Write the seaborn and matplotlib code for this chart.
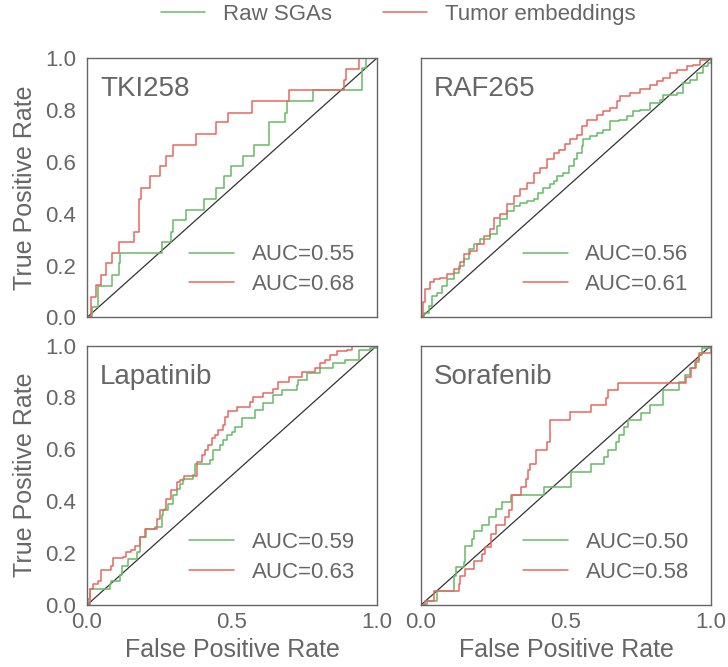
import pandas as pd
import matplotlib
matplotlib.use("Agg")
import matplotlib.pyplot as plt
import seaborn as sns

# ROC corner points (fpr where the step jumps, tpr after the jump)
tki_raw_fpr = [0, 0.018, 0.038, 0.086, 0.111, 0.115, 0.257, 0.288, 0.295, 0.343, 0.403, 0.445, 0.472, 0.495, 0.539, 0.576, 0.628, 0.683, 0.691, 0.778, 0.948, 0.962, 1.0]
tki_raw_tpr = [0, 0.042, 0.12, 0.165, 0.21, 0.25, 0.29, 0.33, 0.374, 0.415, 0.456, 0.50, 0.544, 0.585, 0.623, 0.666, 0.752, 0.79, 0.833, 0.875, 0.961, 1.0, 1.0]
tki_emb_fpr = [0, 0.015, 0.032, 0.047, 0.067, 0.086, 0.11, 0.162, 0.178, 0.187, 0.216, 0.251, 0.272, 0.295, 0.375, 0.444, 0.485, 0.568, 0.695, 0.885, 0.894, 0.939, 1.0]
tki_emb_tpr = [0, 0.08, 0.126, 0.165, 0.21, 0.25, 0.29, 0.33, 0.456, 0.50, 0.544, 0.585, 0.623, 0.666, 0.708, 0.752, 0.79, 0.833, 0.875, 0.916, 0.958, 1.0, 1.0]

raf_raw_fpr = [0, 0.009, 0.026, 0.038, 0.055, 0.072, 0.090, 0.113, 0.130, 0.147, 0.164, 0.181, 0.204, 0.239, 0.262, 0.273, 0.296, 0.319, 0.342, 0.365, 0.388, 0.405, 0.422, 0.445, 0.457, 0.468, 0.491, 0.509, 0.526, 0.537, 0.555, 0.560, 0.583, 0.606, 0.629, 0.652, 0.681, 0.710, 0.732, 0.755, 0.790, 0.824, 0.836, 0.882, 0.905, 0.928, 0.951, 0.974, 0.991, 1.0]
raf_raw_tpr = [0, 0.019, 0.045, 0.083, 0.096, 0.122, 0.147, 0.173, 0.199, 0.224, 0.263, 0.282, 0.301, 0.321, 0.353, 0.378, 0.410, 0.429, 0.442, 0.449, 0.455, 0.481, 0.500, 0.513, 0.526, 0.545, 0.558, 0.583, 0.609, 0.635, 0.660, 0.686, 0.699, 0.712, 0.724, 0.756, 0.763, 0.776, 0.795, 0.801, 0.827, 0.840, 0.859, 0.865, 0.904, 0.917, 0.942, 0.968, 0.981, 1.0]
raf_emb_fpr = [0, 0.006, 0.015, 0.032, 0.044, 0.067, 0.090, 0.113, 0.135, 0.147, 0.170, 0.193, 0.216, 0.239, 0.250, 0.273, 0.296, 0.319, 0.342, 0.365, 0.388, 0.411, 0.434, 0.457, 0.474, 0.497, 0.514, 0.537, 0.555, 0.572, 0.606, 0.629, 0.652, 0.675, 0.687, 0.721, 0.755, 0.790, 0.813, 0.836, 0.859, 0.882, 0.916, 0.939, 0.962, 0.985, 1.0]
raf_emb_tpr = [0, 0.058, 0.109, 0.135, 0.147, 0.154, 0.167, 0.186, 0.212, 0.244, 0.256, 0.282, 0.314, 0.340, 0.385, 0.397, 0.436, 0.468, 0.494, 0.519, 0.558, 0.577, 0.609, 0.635, 0.647, 0.667, 0.688, 0.705, 0.737, 0.763, 0.782, 0.795, 0.808, 0.833, 0.853, 0.865, 0.881, 0.897, 0.910, 0.923, 0.942, 0.955, 0.968, 0.974, 0.994, 1.0, 1.0]

lap_raw_fpr = [0, 0.003, 0.009, 0.078, 0.084, 0.113, 0.119, 0.142, 0.171, 0.182, 0.205, 0.234, 0.257, 0.263, 0.280, 0.297, 0.309, 0.320, 0.332, 0.366, 0.372, 0.424, 0.435, 0.459, 0.470, 0.482, 0.499, 0.510, 0.533, 0.579, 0.608, 0.643, 0.672, 0.724, 0.729, 0.758, 0.804, 0.850, 0.891, 0.937, 0.977, 1.0]
lap_raw_tpr = [0, 0.023, 0.062, 0.081, 0.094, 0.116, 0.152, 0.178, 0.204, 0.262, 0.294, 0.300, 0.345, 0.365, 0.390, 0.423, 0.448, 0.468, 0.485, 0.500, 0.545, 0.558, 0.597, 0.616, 0.635, 0.655, 0.668, 0.687, 0.719, 0.751, 0.777, 0.809, 0.829, 0.848, 0.867, 0.893, 0.912, 0.932, 0.945, 0.983, 0.990, 1.0]
lap_emb_fpr = [0, 0.009, 0.021, 0.038, 0.050, 0.084, 0.090, 0.124, 0.136, 0.153, 0.165, 0.182, 0.199, 0.240, 0.251, 0.268, 0.274, 0.288, 0.309, 0.320, 0.334, 0.380, 0.395, 0.407, 0.418, 0.430, 0.441, 0.453, 0.470, 0.476, 0.487, 0.516, 0.562, 0.574, 0.608, 0.643, 0.660, 0.695, 0.741, 0.787, 0.804, 0.821, 0.839, 0.862, 0.896, 0.914, 1.0]
lap_emb_tpr = [0, 0.062, 0.081, 0.094, 0.133, 0.152, 0.180, 0.184, 0.204, 0.210, 0.229, 0.262, 0.294, 0.332, 0.365, 0.371, 0.410, 0.442, 0.474, 0.481, 0.497, 0.552, 0.577, 0.597, 0.616, 0.642, 0.655, 0.674, 0.693, 0.726, 0.747, 0.764, 0.784, 0.803, 0.816, 0.832, 0.861, 0.880, 0.899, 0.912, 0.932, 0.945, 0.964, 0.977, 0.983, 1.0, 1.0]

sor_raw_fpr = [0, 0.021, 0.055, 0.113, 0.119, 0.147, 0.153, 0.176, 0.182, 0.211, 0.234, 0.257, 0.280, 0.309, 0.424, 0.516, 0.585, 0.631, 0.643, 0.672, 0.683, 0.700, 0.712, 0.758, 0.790, 0.833, 0.891, 0.910, 0.929, 0.945, 0.960, 0.968, 1.0]
sor_raw_tpr = [0, 0.017, 0.052, 0.113, 0.146, 0.165, 0.229, 0.255, 0.287, 0.309, 0.339, 0.371, 0.397, 0.425, 0.455, 0.513, 0.545, 0.571, 0.597, 0.629, 0.655, 0.687, 0.713, 0.738, 0.771, 0.829, 0.861, 0.887, 0.912, 0.938, 0.964, 0.990, 1.0]
sor_emb_fpr = [0, 0.015, 0.044, 0.130, 0.136, 0.153, 0.182, 0.211, 0.222, 0.240, 0.257, 0.291, 0.303, 0.315, 0.343, 0.361, 0.369, 0.376, 0.395, 0.433, 0.445, 0.514, 0.585, 0.637, 0.643, 0.680, 0.914, 0.931, 0.948, 0.960, 1.0]
sor_emb_tpr = [0, 0.017, 0.052, 0.081, 0.113, 0.139, 0.168, 0.197, 0.223, 0.274, 0.309, 0.339, 0.365, 0.423, 0.455, 0.487, 0.519, 0.545, 0.597, 0.629, 0.713, 0.742, 0.771, 0.799, 0.829, 0.857, 0.880, 0.912, 0.945, 0.970, 1.0]

drugs = ["TKI258", "RAF265", "Lapatinib", "Sorafenib"]
auc_raw = ["0.55", "0.56", "0.59", "0.50"]
auc_emb = ["0.68", "0.61", "0.63", "0.58"]
curves = [
    (tki_raw_fpr, tki_raw_tpr, tki_emb_fpr, tki_emb_tpr),
    (raf_raw_fpr, raf_raw_tpr, raf_emb_fpr, raf_emb_tpr),
    (lap_raw_fpr, lap_raw_tpr, lap_emb_fpr, lap_emb_tpr),
    (sor_raw_fpr, sor_raw_tpr, sor_emb_fpr, sor_emb_tpr),
]

sns.set_style("white")
plt.rcParams["font.family"] = ["Liberation Sans", "DejaVu Sans"]
grey = "#666666"
green = "#66bb66"
red = "#e8675e"

fig, axes = plt.subplots(2, 2, figsize=(7.28, 6.67), dpi=100, sharex=True, sharey=True)
fig.subplots_adjust(left=0.1195, right=0.9767, bottom=0.093, top=0.913, wspace=0.152, hspace=0.108)

for i, ax in enumerate(axes.flat):
    rf, rt, ef, et = curves[i]
    d1 = pd.DataFrame({"fpr": rf, "tpr": rt})
    d2 = pd.DataFrame({"fpr": ef, "tpr": et})
    ax.plot([0, 1], [0, 1], color="#333333", lw=0.9)
    sns.lineplot(data=d1, x="fpr", y="tpr", ax=ax, color=green, lw=1.1, sort=False,
                 estimator=None, drawstyle="steps-post", label="AUC=" + auc_raw[i])
    sns.lineplot(data=d2, x="fpr", y="tpr", ax=ax, color=red, lw=1.1, sort=False,
                 estimator=None, drawstyle="steps-post", label="AUC=" + auc_emb[i])
    ax.set_xlim(0, 1)
    ax.set_ylim(0, 1)
    ax.set_xticks([0, 0.5, 1.0])
    ax.set_yticks([0, 0.2, 0.4, 0.6, 0.8, 1.0])
    ax.set_xticklabels(["0.0", "0.5", "1.0"])
    ax.set_yticklabels(["0.0", "0.2", "0.4", "0.6", "0.8", "1.0"])
    ax.tick_params(labelsize=16, colors=grey, length=0)
    ax.tick_params(axis="y", pad=8)
    ax.tick_params(axis="x", pad=5)
    for s in ax.spines.values():
        s.set_color("#666666")
        s.set_linewidth(1.0)
    ax.text(0.045, 0.93, drugs[i], transform=ax.transAxes, fontsize=20, color=grey, va="top")
    leg = ax.legend(loc="lower right", frameon=False, fontsize=16, handlelength=2.0,
                    handletextpad=0.8, labelspacing=0.4, borderaxespad=0.6)
    for t in leg.get_texts():
        t.set_color(grey)
    ax.set_xlabel("")
    ax.set_ylabel("")

for ax in axes[1]:
    ax.set_xlabel("False Positive Rate", fontsize=18, color=grey, labelpad=4)
for ax in axes[:, 0]:
    ax.set_ylabel("True Positive Rate", fontsize=18, color=grey, labelpad=6)

h, _ = axes[0, 0].get_legend_handles_labels()
top = fig.legend(h[:2], ["Raw SGAs", "Tumor embeddings"], loc="center", ncol=2,
                 bbox_to_anchor=(0.547, 0.979), frameon=False, fontsize=16,
                 handlelength=2.0, columnspacing=2.3, handletextpad=0.8)
for t in top.get_texts():
    t.set_color(grey)

fig.savefig("out.png", dpi=100)
